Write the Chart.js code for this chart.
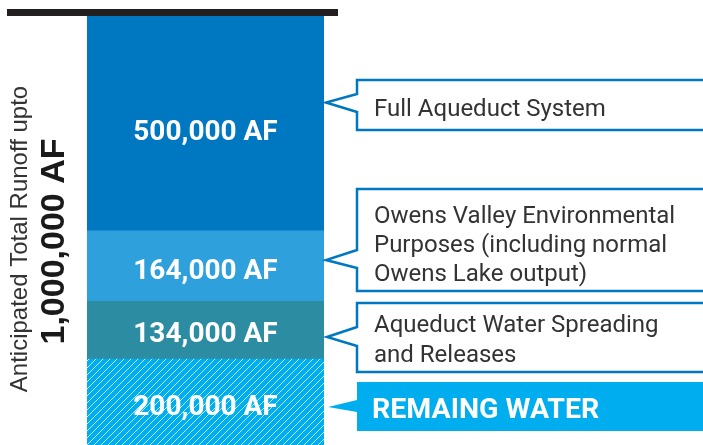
<!DOCTYPE html>
<html>
<head>
<meta charset="utf-8">
<script src="https://cdn.jsdelivr.net/npm/chart.js@4.4.1/dist/chart.umd.min.js"></script>
<style>
  html, body { margin: 0; padding: 0; background: #ffffff; overflow: hidden; }
  #wrap { position: relative; width: 703px; height: 445px; }
</style>
</head>
<body>
<div id="wrap"><canvas id="c" width="703" height="445"></canvas></div>
<script>
// ---- Data (bottom to top of the stacked bar) ----
const categories = ['Runoff'];
const seriesNames = ['Remaining Water', 'Aqueduct Water Spreading and Releases', 'Owens Valley Environmental Purposes', 'Full Aqueduct System'];
const seriesValues = [200000, 134000, 164000, 500000];
const barLabels = ['200,000 AF', '134,000 AF', '164,000 AF', '500,000 AF'];
const calloutTexts = [
  ['REMAING WATER'],
  ['Aqueduct Water Spreading', 'and Releases'],
  ['Owens Valley Environmental', 'Purposes (including normal', 'Owens Lake output)'],
  ['Full Aqueduct System']
];
const axisTitle = 'Anticipated Total Runoff upto';
const axisTitleBold = '1,000,000 AF';

// ---- Styles ----
const DARK = '#0077C1';
const colors = [null, '#2B8CA2', '#2EA0DB', DARK];
const HATCH_BG = '#00AEEF';

function hatchPattern() {
  const s = 7;
  const cv = document.createElement('canvas');
  cv.width = s; cv.height = s;
  const g = cv.getContext('2d');
  g.fillStyle = HATCH_BG;
  g.fillRect(0, 0, s, s);
  g.strokeStyle = 'rgba(255,255,255,0.75)';
  g.lineWidth = 1;
  g.beginPath();
  g.moveTo(-1, s + 1); g.lineTo(s + 1, -1);
  g.moveTo(-1, 1); g.lineTo(1, -1);
  g.moveTo(s - 1, s + 1); g.lineTo(s + 1, s - 1);
  g.stroke();
  return g.createPattern(cv, 'repeat');
}

const total = seriesValues.reduce((a, b) => a + b, 0);

// callout layout (annotation geometry)
const callouts = [
  { top: 382, bottom: 431, tipY: 407, up: 7, down: 5, tipX: 328, filled: true, lineY: [408] },
  { top: 303, bottom: 372, tipY: 337, up: 10, down: 9, tipX: 327, filled: false, lineY: [323.5, 353.5] },
  { top: 189, bottom: 291, tipY: 260, up: 10, down: 8, tipX: 326, filled: false, lineY: [214.5, 243.5, 272.5] },
  { top: 80, bottom: 130, tipY: 102.5, up: 8.5, down: 9.5, tipX: 326, filled: false, lineY: [107.5] }
];
const labelShift = [3, 2, 3, 7];

const decor = {
  id: 'decor',
  afterDatasetsDraw(chart) {
    const ctx = chart.ctx;
    ctx.save();
    // top black bar
    ctx.fillStyle = '#231F20';
    ctx.fillRect(7, 9, 331, 7);

    // segment labels
    ctx.fillStyle = '#ffffff';
    ctx.font = 'bold 28px Roboto';
    ctx.textAlign = 'center';
    ctx.textBaseline = 'alphabetic';
    chart.data.datasets.forEach((ds, i) => {
      const el = chart.getDatasetMeta(i).data[0];
      const cy = (el.y + el.base) / 2 + labelShift[i];
      ctx.fillText(barLabels[i], el.x, cy + 10);
    });

    // callouts
    const L = 357, R = 712;
    callouts.forEach((c, i) => {
      ctx.beginPath();
      ctx.moveTo(L, c.tipY - c.up);
      ctx.lineTo(L, c.top);
      ctx.lineTo(R, c.top);
      ctx.lineTo(R, c.bottom);
      ctx.lineTo(L, c.bottom);
      ctx.lineTo(L, c.tipY + c.down);
      ctx.lineTo(c.tipX, c.tipY);
      ctx.closePath();
      if (c.filled) {
        ctx.fillStyle = HATCH_BG;
        ctx.fill();
      } else {
        ctx.strokeStyle = DARK;
        ctx.lineWidth = 2.5;
        ctx.lineJoin = 'miter';
        ctx.stroke();
      }
      ctx.textAlign = 'left';
      ctx.textBaseline = 'alphabetic';
      if (c.filled) {
        ctx.fillStyle = '#ffffff';
        ctx.font = 'bold 28.5px Roboto';
        ctx.fillText(calloutTexts[i][0], 372, c.lineY[0] + 10);
      } else {
        ctx.fillStyle = '#333333';
        ctx.font = '24px Roboto';
        calloutTexts[i].forEach((t, k) => ctx.fillText(t, 374, c.lineY[k] + 8.5));
      }
    });

    // rotated axis titles
    ctx.fillStyle = '#333333';
    ctx.save();
    ctx.translate(26.7, 239);
    ctx.rotate(-Math.PI / 2);
    ctx.textAlign = 'center';
    ctx.textBaseline = 'alphabetic';
    ctx.font = '24px "Liberation Sans"';
    ctx.fillText(axisTitle, 0, 0);
    ctx.restore();

    ctx.fillStyle = '#1a1a1a';
    ctx.save();
    ctx.translate(63.5, 241.5);
    ctx.rotate(-Math.PI / 2);
    ctx.textAlign = 'center';
    ctx.textBaseline = 'alphabetic';
    ctx.font = 'bold 34px "Liberation Sans"';
    ctx.fillText(axisTitleBold, 0, 0);
    ctx.restore();

    ctx.restore();
  }
};

const datasets = seriesValues.map((v, i) => ({
  label: seriesNames[i],
  data: [v],
  backgroundColor: i === 0 ? hatchPattern() : colors[i],
  borderWidth: 0,
  borderSkipped: false,
  barPercentage: 1,
  categoryPercentage: 1
}));

new Chart(document.getElementById('c'), {
  type: 'bar',
  data: { labels: categories, datasets },
  options: {
    responsive: false,
    animation: false,
    layout: { padding: { left: 87, right: 379, top: 16, bottom: 0 } },
    scales: {
      x: { stacked: true, display: false },
      y: { stacked: true, display: false, min: 0, max: total }
    },
    plugins: { legend: { display: false }, tooltip: { enabled: false } }
  },
  plugins: [decor]
});
</script>
</body>
</html>
